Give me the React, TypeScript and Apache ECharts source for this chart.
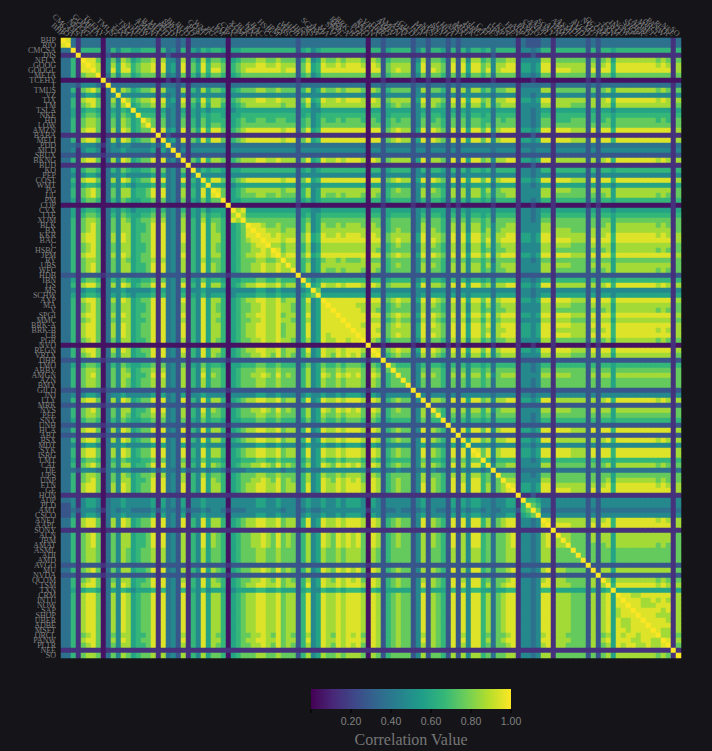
import React, { useEffect, useRef } from "react";
import * as echarts from "echarts";

const tickers = ["BHP","RIO","CMCSA","DIS","NFLX","GOOG","GOOGL","META","TCEHY","T","TMUS","VZ","TJX","TM","TSLA","NKE","HD","LOW","AMZN","BABA","MELI","PDD","MCD","SBUX","BKNG","BUD","KO","PEP","COST","WMT","PG","UL","PM","COP","CVX","TTE","XOM","BLK","BX","KKR","BAC","C","HSBC","JPM","RY","UBS","WFC","HDB","IBN","GS","MS","SCHW","AXP","MA","V","SPGI","MMC","BRK-A","BRK-B","CB","PGR","NVO","REGN","VRTX","DHR","TMO","ABBV","AMGN","AZN","BMY","GILD","JNJ","LLY","MRK","NVS","PFE","SNY","UNH","HCA","ABT","BSX","MDT","SYK","ISRG","LMT","CAT","DE","UPS","UNP","ETN","GE","HON","ADP","PLD","AMT","CSCO","ANET","AAPL","SONY","ACN","IBM","AMAT","ASML","ADI","AMD","AVGO","MU","NVDA","QCOM","TSM","TXN","CRM","INTU","NOW","SAP","SHOP","UBER","ADBE","MSFT","ORCL","PANW","PLTR","NEE","SO"];

// Estimated colour level of each cell below the diagonal, one digit per cell, grouped in tens.
const correlationRows = [
"",
"9",
"33",
"111",
"3361",
"33619",
"336199",
"3361788",
"00000000",
"333244431",
"3361789703",
"3341455403 4",
"3361899703 84",
"3361789703 748",
"3351566503 5465",
"3351677603 64765",
"3361788703 748756",
"3361788703 7487568",
"3361899703 84985677",
"1111111101 111111111",
"3361899703 8498567791",
"3332444313 4344333342 4",
"3341455403 4454444451 53",
"2221222212 2222222221 222",
"3361899703 8498567791 9342",
"1111111101 1111111111 11111",
"3351677603 6476556671 734271",
"3341455403 4454444451 5342514",
"3361899703 8498567791 93429164",
"3351566503 5465455561 634261546",
"3361789703 7488566791 9342816495",
"3361789703 7488566791 9342816495 9",
"3351677603 6476556671 7342715475 77",
"0000000000 0000000000 0000000000 000",
"3351566503 5465455561 6342615464 5550",
"3351677603 6476556671 7342715475 66508",
"3361788703 7487567781 8342816485 776098",
"3361789703 7488566791 9342816495 8760567",
"3361789703 7488566791 9342816495 87605679",
"3361899703 8498567791 9342916495 886056799",
"3361899703 8498567791 9342916495 8860567899",
"3361789703 7488566791 9342816495 8760567789 9",
"3361789703 7488566791 9342816495 8760567788 98",
"3361899703 8498567791 9342916495 8860567889 989",
"3361788703 7487567781 8342816485 7760567778 8778",
"3361789703 7488566791 9342816495 8760567788 98898",
"3361789703 7488566791 9342816495 8760567788 988988",
"2221222212 2222222221 2222212222 2221222222 2222222",
"3351677603 6476556671 7342715475 6650556667 76676662",
"3361899703 8498567791 9342916495 8860567889 988978826",
"3341455403 4454444451 5342514454 4440444445 5445444245",
"3351566503 5465455561 6342615464 5550455556 6556555256 7",
"3361899703 8498567791 9342916495 8860567889 9889788269 45",
"3361789703 7488566791 9342816495 8760567788 9889887268 459",
"3361789703 7488566791 9342816495 8760567788 9889887268 4599",
"3361899703 8498567791 9342916495 8860567889 9889788269 45999",
"3361789703 7488566791 9342816495 8760567788 9889887268 459999",
"3361899703 8498567791 9342916495 8860567889 9889788269 4599999",
"3361899703 8498567791 9342916495 8860567889 9889788269 45999999",
"3361899703 8498567791 9342916495 8860567889 9889788269 459899999",
"3361789703 7488566791 9342816495 8760567788 9889887268 4598899899",
"0000000000 0000000000 0000000000 0000000000 0000000000 0000000000 0",
"3361899703 8498567791 9342916495 8860567889 9889788269 4598898999 80",
"3361789703 7488566791 9342816495 8760567788 9879787268 4598798989 709",
"2221222212 2222222221 2222212222 2221222222 2222222222 2222222222 2122",
"3351677603 6476556671 7342715475 6650556667 7667666257 4576676777 60762",
"3361788703 7487567781 8342816485 7760567778 8778777268 4587787888 708727",
"3361789703 7488566791 9342816495 8760567788 9879787268 4598798989 7098267",
"3361788703 7487567781 8342816485 7760567778 8778777268 4587787888 70872677",
"3361788703 7487567781 8342816485 7760567778 8778777268 4587787888 708726777",
"2221222212 2222222221 2222212222 2221222222 2222222222 2222222222 2122222222",
"3341455403 4454444451 5342514454 4440444445 5445444245 4454454555 4054244444 2",
"3361899703 8498567791 9342916495 8860567889 9889788269 4598898999 8098267877 24",
"2221222212 2222222221 2222212222 2221222222 2222222222 2222222222 2122222222 222",
"3361789703 7488566791 9342816495 8760567788 9879787268 4598798989 7098267877 2482",
"3361788703 7487567781 8342816485 7760567778 8778777268 4587787888 7087267777 24827",
"3351677603 6476556671 7342715475 6650556667 7667666257 4576676777 6076256666 247266",
"2221222212 2222222221 2222212222 2221222222 2222222222 2222222222 2122222222 2222222",
"3361899703 8498567791 9342916495 8860567889 9889788269 4598898999 8098267877 24928762",
"2221222212 2222222221 2222212222 2221222222 2222222222 2222222222 2122222222 222222222",
"3361899703 8498567791 9342916495 8860567889 9889788269 4598898999 8098267877 2492876292",
"3341455403 4454444451 5342514454 4440444445 5445444245 4454454555 4054244444 2452444252 5",
"3361899703 8498567791 9342916495 8860567889 9889788269 4598898999 8098267877 2492876292 94",
"3361899703 8498567791 9342916495 8860567889 9889788269 4598898999 8098267877 2492876292 949",
"3351677603 6476556671 7342715475 6650556667 7667666257 4576676777 6076256666 2472665272 7477",
"3361789703 7488566791 9342816495 8760567788 9879787268 4598798989 7098267877 2482876292 84996",
"3332444313 4344333342 4332423343 4431333444 4444344234 3344444444 4144233433 2342433242 434434",
"3361788703 7487567781 8342816485 7760567778 8778777268 4587787888 7087267777 2482776282 8488673",
"3361789703 7488566791 9342816495 8760567788 9879787268 4598798989 7098267877 2482876292 84996737",
"3361899703 8498567791 9342916495 8860567889 9889788269 4598898999 8098267877 2492876292 949968378",
"3361899703 8498567791 9342916495 8860567889 9889788269 4598898999 8098267877 2492876292 9499683789",
"1111111101 1111111111 1111111111 1111111111 1111111111 1111111111 1111111111 1111111111 1111111111 1",
"3341455403 4454444451 5342514454 4440444445 5445444245 4454454555 4054244444 2452444252 5455443445 51",
"2241455403 4454444451 5342514454 4440444445 5445444245 4454454555 4054244444 2452444252 5455443445 516",
"2232444313 4344333342 4332423343 4431333444 4444344234 3344444444 4144233433 2342433242 4344343344 4267",
"2241455403 4454444451 5342514454 4440444445 5445444245 4454454555 4054244444 2452444252 5455443445 51567",
"3361899703 8498567791 9342916495 8860567889 9889788269 4598898999 8098267877 2492876292 9499683789 914434",
"3361899703 8498567791 9342916495 8860567889 9889788269 4598898999 8098267877 2492876292 9499683789 9144349",
"1111111101 1111111111 1111111111 1111111111 1111111111 1111111111 1111111111 1111111111 1111111111 11111111",
"3361789703 7488566791 9342816495 8760567788 9879787268 4598798989 7098267877 2482876292 8499673778 914434891",
"3361789703 7488566791 9342816495 8760567788 9879787268 4598798989 7098267877 2482876292 8499673778 9144348918",
"3361789703 7488566791 9342816495 8760567788 9879787268 4598798989 7098267877 2482876292 8499673778 9144348918 8",
"3361788703 7487567781 8342816485 7760567778 8778777268 4587787888 7087267777 2482776282 8488673778 8144348817 77",
"3361788703 7487567781 8342816485 7760567778 8778777268 4587787888 7087267777 2482776282 8488673778 8144348817 777",
"3361788703 7487567781 8342816485 7760567778 8778777268 4587787888 7087267777 2482776282 8488673778 8144348817 7777",
"2221222212 2222222221 2222212222 2221222222 2222222222 2222222222 2122222222 2222222222 2222222222 2122222212 22222",
"3361789703 7488566791 9342816495 8760567788 9879787268 4598798989 7098267877 2482876292 8499673778 9144348918 877772",
"2221222212 2222222221 2222212222 2221222222 2222222222 2222222222 2122222222 2222222222 2222222222 2122222212 2222222",
"3361789703 7488566791 9342816495 8760567788 9879787268 4598798989 7098267877 2482876292 8499673778 9144348918 87777282",
"3361899703 8498567791 9342916495 8860567889 9889788269 4598898999 8098267877 2492876292 9499683789 9144349918 887772828",
"3351566503 5465455561 6342615464 5550455556 6556555256 4465565666 5065255555 2462555262 6466553556 6144346615 5555525256",
"3361899703 8498567791 9342916495 8860567889 9889788269 4598898999 8098267877 2492876292 9499683789 9144349918 8877728289 5",
"3361899703 8498567791 9342916495 8860567889 9889788269 4598898999 8098267877 2492876292 9499683789 9144349918 8877728289 59",
"3361899703 8498567791 9342916495 8860567889 9889788269 4598898999 8098267877 2492876292 9499683789 9144349918 8877728289 599",
"3361899703 8498567791 9342916495 8860567889 9889788269 4598898999 8098267877 2492876292 9499683789 9144349918 8877728289 5899",
"3361899703 8498567791 9342916495 8860567889 9889788269 4598898999 8098267877 2492876292 9499683789 9144349918 8877728289 58999",
"3361899703 8498567791 9342916495 8860567889 9889788269 4598898999 8098267877 2492876292 9499683789 9144349918 8877728289 598899",
"3361899703 8498567791 9342916495 8860567889 9889788269 4598898999 8098267877 2492876292 9499683789 9144349918 8877728289 5988999",
"3361899703 8498567791 9342916495 8860567889 9889788269 4598898999 8098267877 2492876292 9499683789 9144349918 8877728289 59989999",
"3361789703 7488566791 9342816495 8760567788 9879787268 4598798989 7098267877 2482876292 8499673778 9144348918 8777728278 598998999",
"3361899703 8498567791 9342916495 8860567889 9889788269 4598898999 8098267877 2492876292 9499683789 9144349918 8877728289 5999889988",
"3361789703 7488566791 9342816495 8760567788 9879787268 4598798989 7098267877 2482876292 8499673778 9144348918 8777728278 5989988988 9",
"1111111101 1111111111 1111111111 1111111111 1111111111 1111111111 1111111111 1111111111 1111111111 1111111111 1111111111 1111111111 11",
"3361788703 7487567781 8342816485 7760567778 8778777268 4587787888 7087267777 2482776282 8488673778 8144348817 7777727278 5888888887 871",
];

const levelValues = [0.05, 0.14, 0.27, 0.37, 0.47, 0.58, 0.66, 0.76, 0.86, 0.95];
const legendTicks = ["", "0.20", "0.40", "0.60", "0.80", "1.00"];
const viridis = ["#440154","#482878","#3e4989","#31688e","#26828e","#1f9e89","#35b779","#6ece58","#b5de2b","#fde725"];

const BG = "#151519";

function buildCells() {
  const cells: [number, number, number][] = [];
  correlationRows.forEach((raw, i) => {
    const row = raw.replace(/\s/g, "");
    for (let j = 0; j < row.length; j++) {
      const v = levelValues[Number(row[j])];
      cells.push([j, i, v], [i, j, v]);
    }
    cells.push([i, i, 1]);
  });
  return cells;
}

export default function App() {
  const ref = useRef<HTMLDivElement>(null);
  useEffect(() => {
    document.body.style.margin = "0";
    document.body.style.background = BG;
    const chart = echarts.init(ref.current!, null, { renderer: "svg" });
    const barX = 311, barY = 689, barW = 200, barH = 20;
    const tickEls: any[] = [];
    legendTicks.forEach((t, k) => {
      const x = barX + (barW * k) / (legendTicks.length - 1);
      tickEls.push({ type: "line", silent: true, shape: { x1: x, y1: barY + barH, x2: x, y2: barY + barH + 4 }, style: { stroke: "#000", lineWidth: 1 } });
      if (t) tickEls.push({ type: "text", silent: true, x, y: barY + barH + 12, style: { text: t, fill: "#808080", font: '10.5px "Liberation Sans"', textAlign: "center", textVerticalAlign: "middle" } });
    });
    chart.setOption({
      animation: false,
      backgroundColor: BG,
      grid: { left: 61, top: 38, width: 620, height: 620, containLabel: false },
      xAxis: {
        type: "category",
        position: "top",
        data: tickers,
        axisLine: { show: false },
        axisTick: { show: false },
        splitLine: { show: false },
        axisLabel: { interval: 0, rotate: 45, fontSize: 8, margin: 3, color: "#808080", fontFamily: "Liberation Serif" },
      },
      yAxis: {
        type: "category",
        inverse: true,
        data: tickers,
        axisLine: { show: false },
        axisTick: { show: false },
        splitLine: { show: false },
        axisLabel: { interval: 0, fontSize: 8, margin: 5, color: "#808080", fontFamily: "Liberation Serif" },
      },
      visualMap: { show: false, type: "continuous", min: 0, max: 1, dimension: 2, inRange: { color: viridis } },
      series: [{
        type: "heatmap",
        data: buildCells(),
        progressive: 0,
        emphasis: { disabled: true },
        itemStyle: { borderWidth: 0 },
      }],
      graphic: [
        {
          type: "rect", silent: true,
          shape: { x: barX, y: barY, width: barW, height: barH },
          style: {
            fill: new echarts.graphic.LinearGradient(0, 0, 1, 0, viridis.map((color, k) => ({ offset: k / (viridis.length - 1), color }))),
          },
        },
        ...tickEls,
        { type: "text", silent: true, x: barX + barW / 2, y: 739, style: { text: "Correlation Value", fill: "#767676", font: '16px "Liberation Serif"', textAlign: "center", textVerticalAlign: "middle" } },
      ],
    });
    return () => chart.dispose();
  }, []);
  return <div ref={ref} style={{ position: "fixed", left: 0, top: 0, width: 712, height: 751 }} />;
}
